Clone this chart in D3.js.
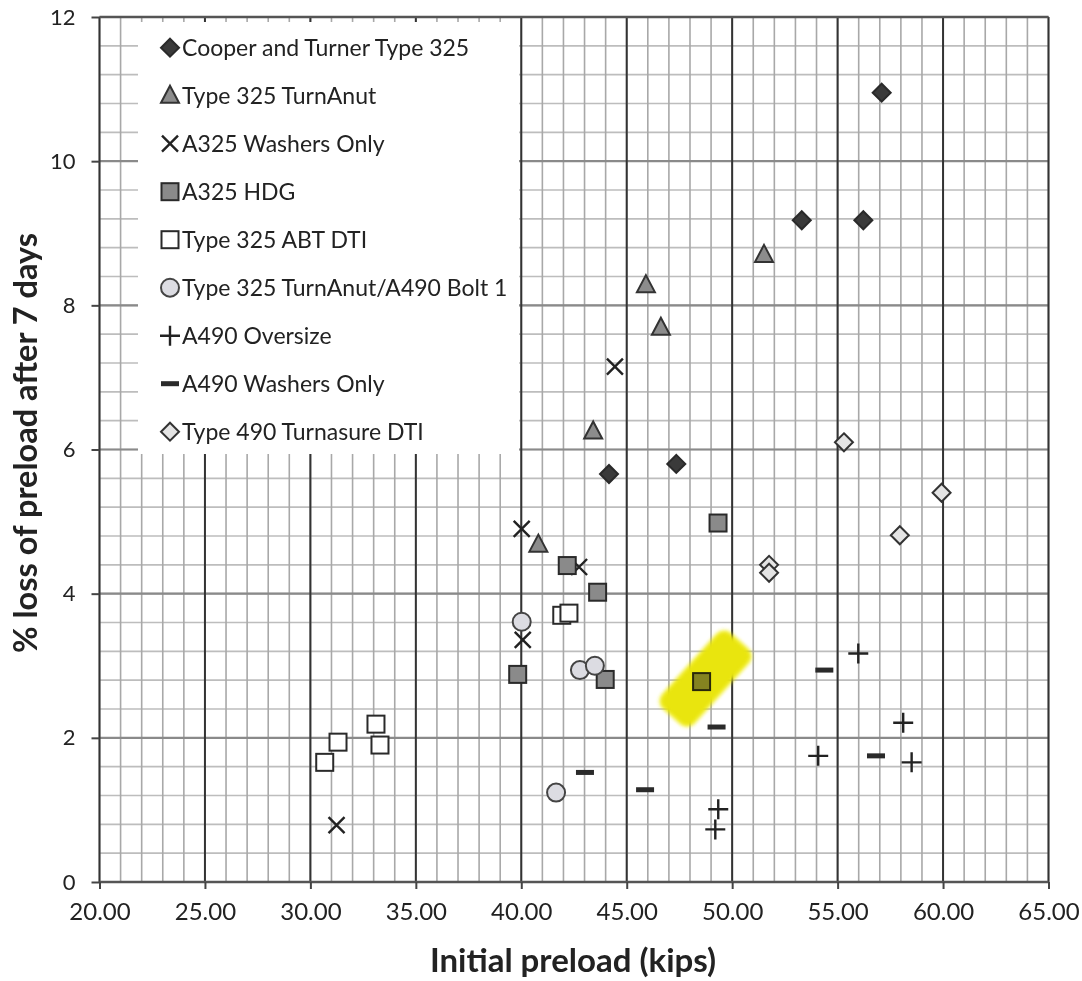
<!DOCTYPE html>
<html>
<head>
<meta charset="utf-8">
<script src="https://cdn.jsdelivr.net/npm/d3@7"></script>
<style>
  body { margin: 0; background: #fff; }
  text { font-family: Lato, "Open Sans", sans-serif; fill: #222; }
</style>
</head>
<body>
<svg id="chart" width="1082" height="981"></svg>
<script>
// series names and marker kinds
var seriesNames = [
  'Cooper and Turner Type 325',
  'Type 325 TurnAnut',
  'A325 Washers Only',
  'A325 HDG',
  'Type 325 ABT DTI',
  'Type 325 TurnAnut/A490 Bolt 1',
  'A490 Oversize',
  'A490 Washers Only',
  'Type 490 Turnasure DTI'
];
var seriesMarkers = ['diamondDark', 'triangle', 'cross', 'squareGray', 'squareWhite', 'circle', 'plus', 'dash', 'diamondLight'];

// initial preload (kips) / % loss after 7 days
var cooperX = [57.09, 53.30, 56.22, 44.16, 47.35];
var cooperY = [10.95, 9.18, 9.18, 5.66, 5.80];
var turnanutX = [51.51, 45.91, 46.62, 43.41, 40.81];
var turnanutY = [8.70, 8.28, 7.69, 6.25, 4.68];
var a325WashX = [44.44, 40.02, 42.74, 40.07, 31.24];
var a325WashY = [7.15, 4.90, 4.37, 3.36, 0.79];
var hdgX = [49.33, 42.18, 43.62, 39.83, 43.98, 48.55];
var hdgY = [4.98, 4.39, 4.02, 2.88, 2.81, 2.78];
var abtX = [41.92, 42.26, 33.11, 33.30, 31.31, 30.68];
var abtY = [3.70, 3.73, 2.19, 1.90, 1.94, 1.66];
var bolt1X = [40.02, 42.78, 43.49, 41.65];
var bolt1Y = [3.61, 2.94, 3.00, 1.24];
var oversizeX = [49.34, 49.20, 55.98, 58.11, 58.51, 54.08];
var oversizeY = [1.01, 0.73, 3.17, 2.21, 1.66, 1.75];
var a490WashX = [49.26, 43.02, 45.87, 54.37, 56.82];
var a490WashY = [2.15, 1.52, 1.28, 2.94, 1.75];
var turnasureX = [55.30, 59.93, 57.95, 51.75, 51.75];
var turnasureY = [6.10, 5.40, 4.81, 4.40, 4.29];

var seriesX = [cooperX, turnanutX, a325WashX, hdgX, abtX, bolt1X, oversizeX, a490WashX, turnasureX];
var seriesY = [cooperY, turnanutY, a325WashY, hdgY, abtY, bolt1Y, oversizeY, a490WashY, turnasureY];

// highlighted point (A325 HDG)
var highlightSeries = 3, highlightIndex = 5;

var xTicks = d3.range(20, 65.01, 5);
var yTicks = d3.range(0, 12.01, 2);

var svg = d3.select('#chart');

var x = d3.scaleLinear().domain([20, 65]).range([99.5, 1048.5]);
var y = d3.scaleLinear().domain([0, 12]).range([882, 17]);

// Grid
var grid = svg.append('g');
grid.selectAll('.hminor')
  .data(d3.range(0, 12.01, 0.4))
  .enter().append('line')
  .attr('x1', x(20)).attr('x2', x(65))
  .attr('y1', d => y(d)).attr('y2', d => y(d))
  .attr('stroke', '#bdbdbd').attr('stroke-width', 1.6);
grid.selectAll('.vminor')
  .data(d3.range(20, 65.01, 1))
  .enter().append('line')
  .attr('x1', d => x(d)).attr('x2', d => x(d))
  .attr('y1', y(0)).attr('y2', y(12))
  .attr('stroke', '#a8a8a8').attr('stroke-width', 1.6);
grid.selectAll('.hmajor')
  .data(yTicks)
  .enter().append('line')
  .attr('x1', x(20)).attr('x2', x(65))
  .attr('y1', d => y(d)).attr('y2', d => y(d))
  .attr('stroke', '#8a8a8a').attr('stroke-width', 2.2);
grid.selectAll('.vmajor')
  .data(xTicks)
  .enter().append('line')
  .attr('x1', d => x(d)).attr('x2', d => x(d))
  .attr('y1', y(0)).attr('y2', y(12))
  .attr('stroke', '#333').attr('stroke-width', 2);
// frame
svg.append('line').attr('x1', x(20)).attr('x2', x(65)).attr('y1', y(12)).attr('y2', y(12))
  .attr('stroke', '#555').attr('stroke-width', 2.5);
svg.append('line').attr('x1', x(20)).attr('x2', x(65)).attr('y1', y(0)).attr('y2', y(0))
  .attr('stroke', '#555').attr('stroke-width', 2.5);

// Axes
var xAxis = svg.append('g')
  .attr('transform', 'translate(0,' + y(0) + ')')
  .call(d3.axisBottom(x).tickValues(xTicks).tickFormat(d3.format('.2f')).tickSize(7).tickPadding(14));
var yAxis = svg.append('g')
  .attr('transform', 'translate(' + x(20) + ',0)')
  .call(d3.axisLeft(y).tickValues(yTicks).tickFormat(d3.format('d')).tickSize(8).tickPadding(16));
[xAxis, yAxis].forEach(function(a) {
  a.select('.domain').remove();
  a.selectAll('.tick line').attr('stroke', '#444').attr('stroke-width', 2);
  a.selectAll('.tick text').attr('fill', '#2a2a2a')
    .style('font-family', 'Lato, sans-serif');
});
xAxis.selectAll('.tick text').attr('font-size', 24);
yAxis.selectAll('.tick text').attr('font-size', 22);

svg.append('text')
  .attr('x', 573).attr('y', 972)
  .attr('text-anchor', 'middle')
  .attr('font-size', 33).attr('font-weight', 'bold')
  .text('Initial preload (kips)');
svg.append('text')
  .attr('transform', 'translate(37,' + 443 + ') rotate(-90)')
  .attr('text-anchor', 'middle')
  .attr('font-size', 32.5).attr('font-weight', 'bold')
  .text('% loss of preload after 7 days');

// Legend box
var legend = svg.append('g');
legend.append('rect')
  .attr('x', 138).attr('y', 22).attr('width', 381).attr('height', 432)
  .attr('fill', '#fff');

// Marker drawing
function drawMarker(g, kind) {
  var s = 9;
  if (kind === 'diamondDark' || kind === 'diamondLight') {
    g.append('path')
      .attr('d', 'M0,' + (-s) + 'L' + s + ',0L0,' + s + 'L' + (-s) + ',0Z')
      .attr('fill', kind === 'diamondDark' ? '#3a3a3a' : '#e4e4e4')
      .attr('stroke', kind === 'diamondDark' ? '#2a2a2a' : '#333')
      .attr('stroke-width', 2);
  } else if (kind === 'triangle') {
    g.append('path')
      .attr('d', 'M0,-10L9,7L-9,7Z')
      .attr('fill', '#8c8c8c').attr('stroke', '#333').attr('stroke-width', 2);
  } else if (kind === 'cross') {
    g.append('path')
      .attr('d', 'M-8,-8L8,8M8,-8L-8,8')
      .attr('stroke', '#222').attr('stroke-width', 2.4).attr('fill', 'none');
  } else if (kind === 'squareGray' || kind === 'squareWhite') {
    g.append('rect')
      .attr('x', -8.5).attr('y', -8.5).attr('width', 17).attr('height', 17)
      .attr('fill', kind === 'squareGray' ? '#8a8a8a' : '#fff')
      .attr('stroke', '#2a2a2a').attr('stroke-width', 2);
  } else if (kind === 'circle') {
    g.append('circle').attr('r', 9)
      .attr('fill', '#dcdce2').attr('stroke', '#444').attr('stroke-width', 2);
  } else if (kind === 'plus') {
    g.append('path')
      .attr('d', 'M-10,0L10,0M0,-10L0,10')
      .attr('stroke', '#222').attr('stroke-width', 2.4).attr('fill', 'none');
  } else if (kind === 'dash') {
    g.append('rect')
      .attr('x', -9).attr('y', -2.5).attr('width', 18).attr('height', 5)
      .attr('fill', '#2a2a2a');
  }
}

seriesNames.forEach(function(name, i) {
  var row = legend.append('g').attr('transform', 'translate(170,' + (47.7 + i * 48) + ')');
  drawMarker(row, seriesMarkers[i]);
  row.append('text')
    .attr('x', 12).attr('y', 8)
    .attr('font-size', 23)
    .text(name);
});

// Yellow highlight behind the marked point
var hx = x(seriesX[highlightSeries][highlightIndex]) + 4;
var hy = y(seriesY[highlightSeries][highlightIndex]) - 3;
svg.append('defs').append('filter').attr('id', 'soft')
  .append('feGaussianBlur').attr('stdDeviation', 2);
function highlight(blend) {
  return svg.append('rect')
    .attr('x', -50).attr('y', -21).attr('width', 100).attr('height', 42)
    .attr('rx', 9)
    .attr('transform', 'translate(' + hx + ',' + hy + ') rotate(-48)')
    .attr('fill', '#f4f23a')
    .attr('filter', 'url(#soft)')
    .style('mix-blend-mode', blend);
}
highlight('normal');

// Points
var points = svg.append('g');
seriesNames.forEach(function(name, i) {
  var pts = seriesX[i].map(function(v, j) { return { x: v, y: seriesY[i][j] }; });
  points.selectAll('.s' + i)
    .data(pts)
    .enter().append('g')
    .attr('transform', d => 'translate(' + x(d.x) + ',' + y(d.y) + ')')
    .each(function() { drawMarker(d3.select(this), seriesMarkers[i]); });
});

highlight('multiply');
</script>
</body>
</html>
